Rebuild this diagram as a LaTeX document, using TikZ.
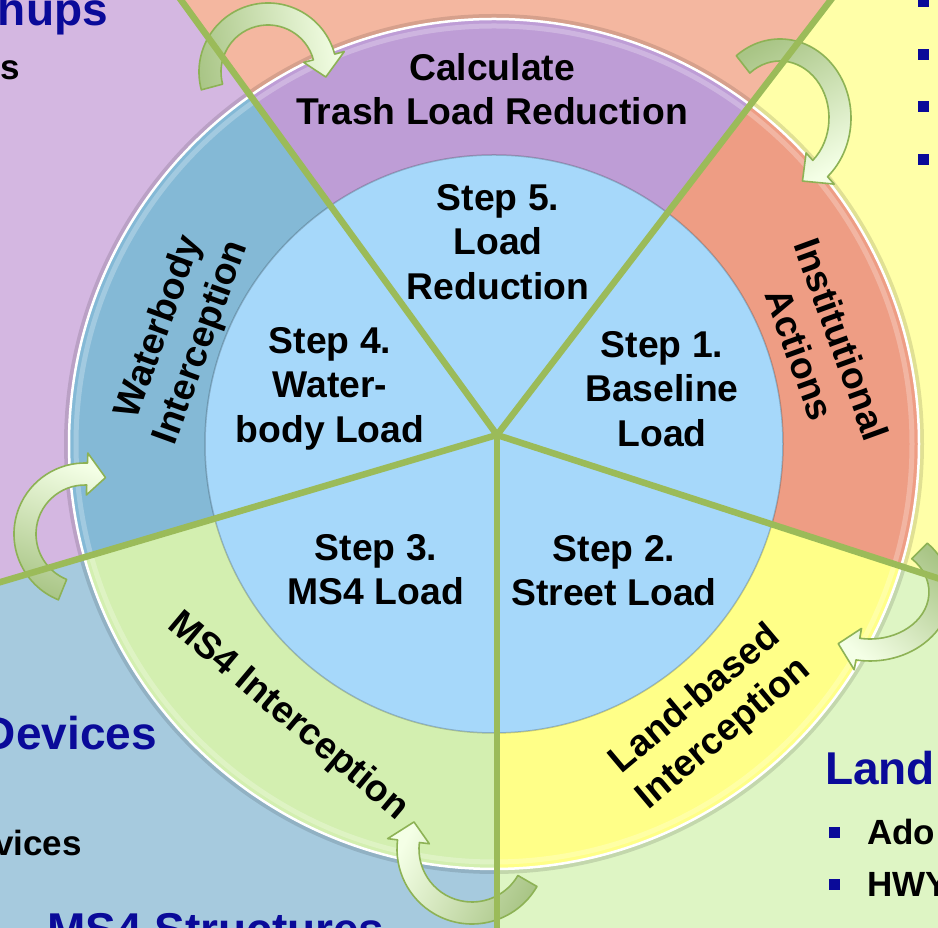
\documentclass[tikz,border=0pt]{standalone}
\usepackage{fontspec}
\setmainfont{Liberation Sans}
\usetikzlibrary{calc}
\definecolor{bgSalmon}{HTML}{F4B7A0}
\definecolor{bgPurple}{HTML}{D4B7E1}
\definecolor{bgBlue}{HTML}{A6CADE}
\definecolor{bgGreen}{HTML}{DEF5C4}
\definecolor{bgYellow}{HTML}{FFFFA8}
\definecolor{rgPurple}{HTML}{BE9DD6}
\definecolor{rgBlue}{HTML}{84B9D6}
\definecolor{rgGreen}{HTML}{D3EFB0}
\definecolor{rgYellow}{HTML}{FFFF88}
\definecolor{rgSalmon}{HTML}{EE9D84}
\definecolor{coreBlue}{HTML}{A6D8FA}
\definecolor{divGreen}{HTML}{9BBB59}
\definecolor{hdBlue}{HTML}{0A0A99}
\definecolor{arrTail}{HTML}{A9C586}
\definecolor{arrHead}{HTML}{F4FFE6}
\definecolor{arrEdge}{HTML}{8DB255}
\tikzset{
  bentarrowstyle/.style={draw=arrEdge, line width=1.6pt, line join=round, top color=arrHead, bottom color=arrTail},
  divline/.style={draw=divGreen, line width=6.5pt},
  ringtxt/.style={font=\bfseries\fontsize{37.3}{44.5}\selectfont, align=center, text=black, inner sep=0pt},
  headtxt/.style={font=\bfseries\fontsize{46}{52}\selectfont, text=hdBlue, inner sep=0pt},
  bodytxt/.style={font=\bfseries\fontsize{35}{42}\selectfont, text=black, inner sep=0pt},
  bulletsq/.style={fill=hdBlue, minimum size=11pt, inner sep=0pt, outer sep=0pt}
}
% #1 centre, #2 rx, #3 ry, #4 tail angle, #5 head-base angle, #6 tip angle, #7 shading angle
\newcommand\bentarrow[7]{%
  \pgfmathsetmacro\rxo{#2+11}\pgfmathsetmacro\ryo{#3+11}%
  \pgfmathsetmacro\rxi{#2-11}\pgfmathsetmacro\ryi{#3-11}%
  \pgfmathsetmacro\rxho{#2+21}\pgfmathsetmacro\ryho{#3+21}%
  \pgfmathsetmacro\rxhi{#2-21}\pgfmathsetmacro\ryhi{#3-21}%
  \shadedraw[bentarrowstyle, shading angle=#7]
    ($(#1)+(#4:\rxo\space and \ryo)$)
    arc[start angle=#4, end angle=#5, x radius=\rxo, y radius=\ryo]
    -- ($(#1)+(#5:\rxho\space and \ryho)$)
    -- ($(#1)+(#6:#2 and #3)$)
    -- ($(#1)+(#5:\rxhi\space and \ryhi)$)
    -- ($(#1)+(#5:\rxi\space and \ryi)$)
    arc[start angle=#5, end angle=#4, x radius=\rxi, y radius=\ryi]
    -- cycle;%
}
\begin{document}
\begin{tikzpicture}[x=1pt,y=1pt]
\useasboundingbox (0,0) rectangle (938,928);
\clip (0,0) rectangle (938,928);
\coordinate (hub) at (497,493);
\coordinate (ctr) at (494,484);

% background sectors
\foreach \a/\b/\c in {52.5/126/bgSalmon, 126/196.5/bgPurple, 196.5/270/bgBlue, 270/342/bgGreen, 342/412.5/bgYellow}{
  \fill[\c] (hub) -- ++(\a:1400) arc[start angle=\a, end angle=\b, radius=1400] -- cycle;
}

% background texts
\node[headtxt, anchor=base east] (tgroups) at (108,902) {hups};
\node[bodytxt, anchor=base east] (tgroupsline) at (20,848) {s};
\node[headtxt, anchor=base east] (tdevices) at (157,178) {Devices};
\node[bodytxt, anchor=base east] (tdevline) at (82,72) {vices};
\node[headtxt, anchor=base west] (tms4s) at (47,-18) {MS4 Structures};
\node[headtxt, anchor=base west] (tland) at (825,143) {Land};
\node[bulletsq] (bA) at (834.5,95.5) {};
\node[bulletsq] (bB) at (834.5,43.5) {};
\node[bodytxt, anchor=base west] (tado) at (867,83) {Ado};
\node[bodytxt, anchor=base west] (thwy) at (867,31) {HWY};
\node[bulletsq] (bC) at (923.5,926) {};
\node[bulletsq] (bD) at (923.5,873.5) {};
\node[bulletsq] (bE) at (923.5,821) {};
\node[bulletsq] (bF) at (923.5,768) {};

% ring segments
\foreach \a/\b/\c in {52.5/126/rgPurple, 126/196.5/rgBlue, 196.5/270/rgGreen, 270/342/rgYellow, 342/412.5/rgSalmon}{
  \begin{scope}
    \clip (hub) -- ++(\a:1400) arc[start angle=\a, end angle=\b, radius=1400] -- cycle;
    \fill[\c] (ctr) circle (425);
  \end{scope}
}
\draw[black, opacity=0.12, line width=4pt] (ctr) circle (428);
\draw[white, line width=2.5pt] (ctr) circle (425);
\draw[white, opacity=0.25, line width=5pt] (ctr) circle (418);

% inner disc
\fill[coreBlue] (ctr) circle (289);
\draw[black, opacity=0.2, line width=1.5pt] (ctr) circle (289);

% curved arrows
\bentarrow{268,856}{58}{58}{195}{15}{-5}{-81.5}
\bentarrow{780,810}{60}{68}{128}{-48}{-68}{-150.6}
\bentarrow{870,336}{70}{58}{45}{-100}{-117}{139.2}
\bentarrow{472,79}{64}{64}{-30}{-187}{-205}{62.6}
\bentarrow{85,394}{60}{60}{248}{88}{70}{-20.5}

% dividing lines
\foreach \a [count=\i] in {52.5,126,196.5,270,342}{
  \coordinate (e\i) at ($(hub)+(\a:1400)$);
  \draw[divline] (hub) -- (e\i);
}

% ring labels
\node[ringtxt] (calc) at (492,839) {Calculate\\Trash Load Reduction};
\node[ringtxt, rotate=70] (water) at (181,593) {Waterbody\\Interception};
\node[ringtxt, rotate=-70] (inst) at (821,581) {Institutional\\Actions};
\node[ringtxt, rotate=-40] (ms4i) at (288,211) {MS4 Interception};
\node[ringtxt, rotate=40] (landi) at (710,211) {Land-based\\Interception};

% inner labels
\node[ringtxt] (s5) at (498,686) {Step 5.\\Load\\Reduction};
\node[ringtxt] (s4) at (330,539.5) {Step 4.\\Water-\\body Load};
\node[ringtxt] (s1) at (662,539.3) {Step 1.\\Baseline\\Load};
\node[ringtxt] (s3) at (376,358.5) {Step 3.\\MS4 Load};
\node[ringtxt] (s2) at (614,357.5) {Step 2.\\Street Load};
\end{tikzpicture}
\end{document}
